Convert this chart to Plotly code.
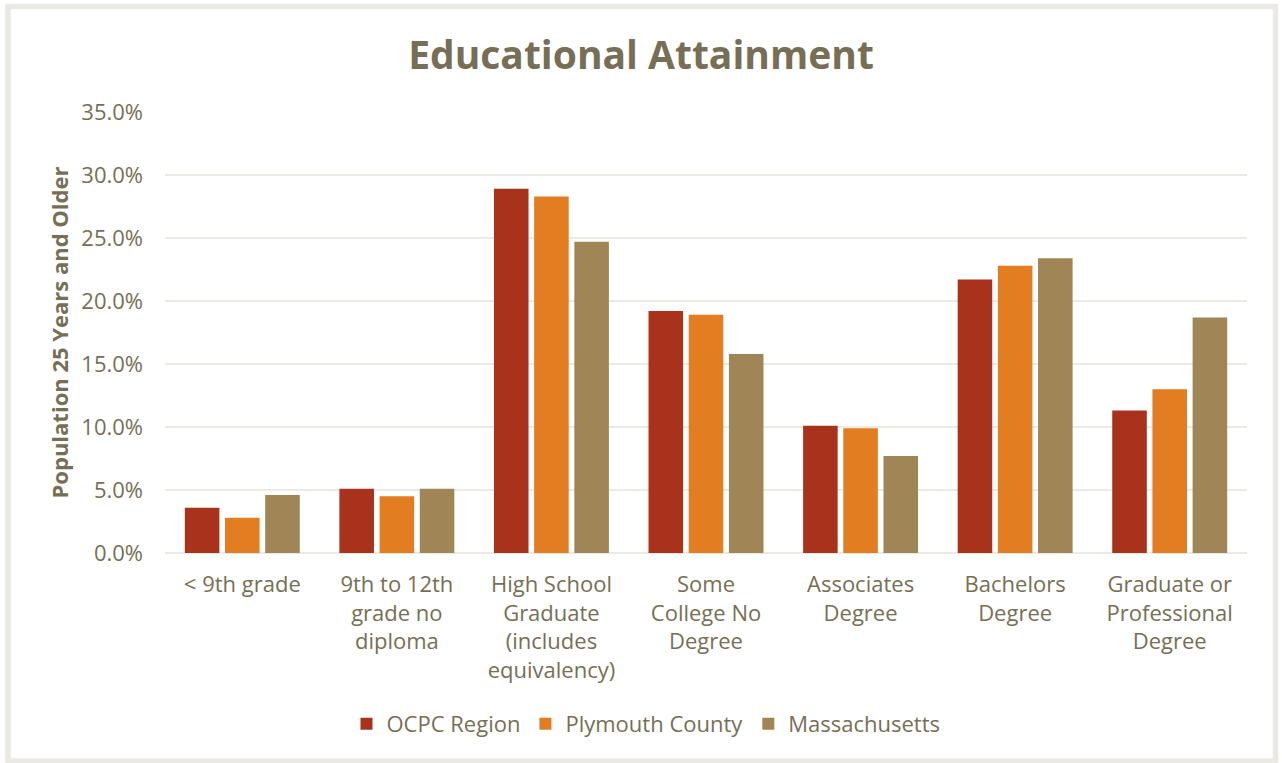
import plotly.graph_objects as go

# Share of population aged 25+ by highest level of education
categories = [
    "< 9th grade",
    "9th to 12th<br>grade no<br>diploma",
    "High School<br>Graduate<br>(includes<br>equivalency)",
    "Some<br>College No<br>Degree",
    "Associates<br>Degree",
    "Bachelors<br>Degree",
    "Graduate or<br>Professional<br>Degree",
]
ocpc_region = [3.6, 5.1, 28.9, 19.2, 10.1, 21.7, 11.3]
plymouth_county = [2.8, 4.5, 28.3, 18.9, 9.9, 22.8, 13.0]
massachusetts = [4.6, 5.1, 24.7, 15.8, 7.7, 23.4, 18.7]

series_names = ["OCPC Region", "Plymouth County", "Massachusetts"]
series_colors = ["#A8321C", "#E37D22", "#A08656"]

TEXT = "#776F55"
FONT = "Open Sans"
W, H = 1282, 763
ML, MR, MT, MB = 165, 35, 112, 210

fig = go.Figure()
for name, vals, col in zip(series_names, [ocpc_region, plymouth_county, massachusetts], series_colors):
    fig.add_trace(go.Bar(
        name=name,
        x=categories,
        y=[v / 100 for v in vals],
        marker=dict(color=col, line=dict(width=0)),
    ))

# light frame around the whole chart
pw, ph = W - ML - MR, H - MT - MB
def px_x(p):
    return (p - ML) / pw
def px_y(p):
    return (H - MB - p) / ph

fig.add_shape(
    type="rect", xref="paper", yref="paper",
    x0=px_x(8), x1=px_x(1275.5), y0=px_y(761), y1=px_y(6.5),
    line=dict(color="#EAE9E4", width=5.5), fillcolor="rgba(0,0,0,0)",
    layer="below",
)

fig.update_layout(
    width=W, height=H,
    margin=dict(l=ML, r=MR, t=MT, b=MB),
    paper_bgcolor="white", plot_bgcolor="white",
    barmode="group", bargap=0.22, bargroupgap=0.14,
    font=dict(family=FONT, color=TEXT, size=22),
    title=dict(
        text="<b>Educational Attainment</b>",
        x=0.5, xanchor="center", y=1 - 55 / H, yanchor="middle", yref="container",
        font=dict(family=FONT, size=39, color=TEXT),
    ),
    legend=dict(
        orientation="h", x=px_x(646), xanchor="center", y=px_y(724), yanchor="middle",
        font=dict(family=FONT, size=22, color=TEXT),
        itemwidth=30, traceorder="normal",
    ),
    xaxis=dict(
        showgrid=False, showline=False, zeroline=False,
        tickfont=dict(family=FONT, size=22, color=TEXT),
        ticklabelstandoff=16,
    ),
    yaxis=dict(
        range=[0, 0.35], dtick=0.05, tickformat=".1%",
        showgrid=True, gridcolor="#EBEAE5", gridwidth=2,
        zeroline=True, zerolinecolor="#EBEAE5", zerolinewidth=2,
        showline=False,
        tickfont=dict(family=FONT, size=22, color=TEXT),
        ticklabelstandoff=21,
        title=dict(
            text="<b>Population 25 Years and Older</b>",
            font=dict(family=FONT, size=22, color=TEXT),
            standoff=6,
        ),
    ),
)

fig.write_html("out.html")
